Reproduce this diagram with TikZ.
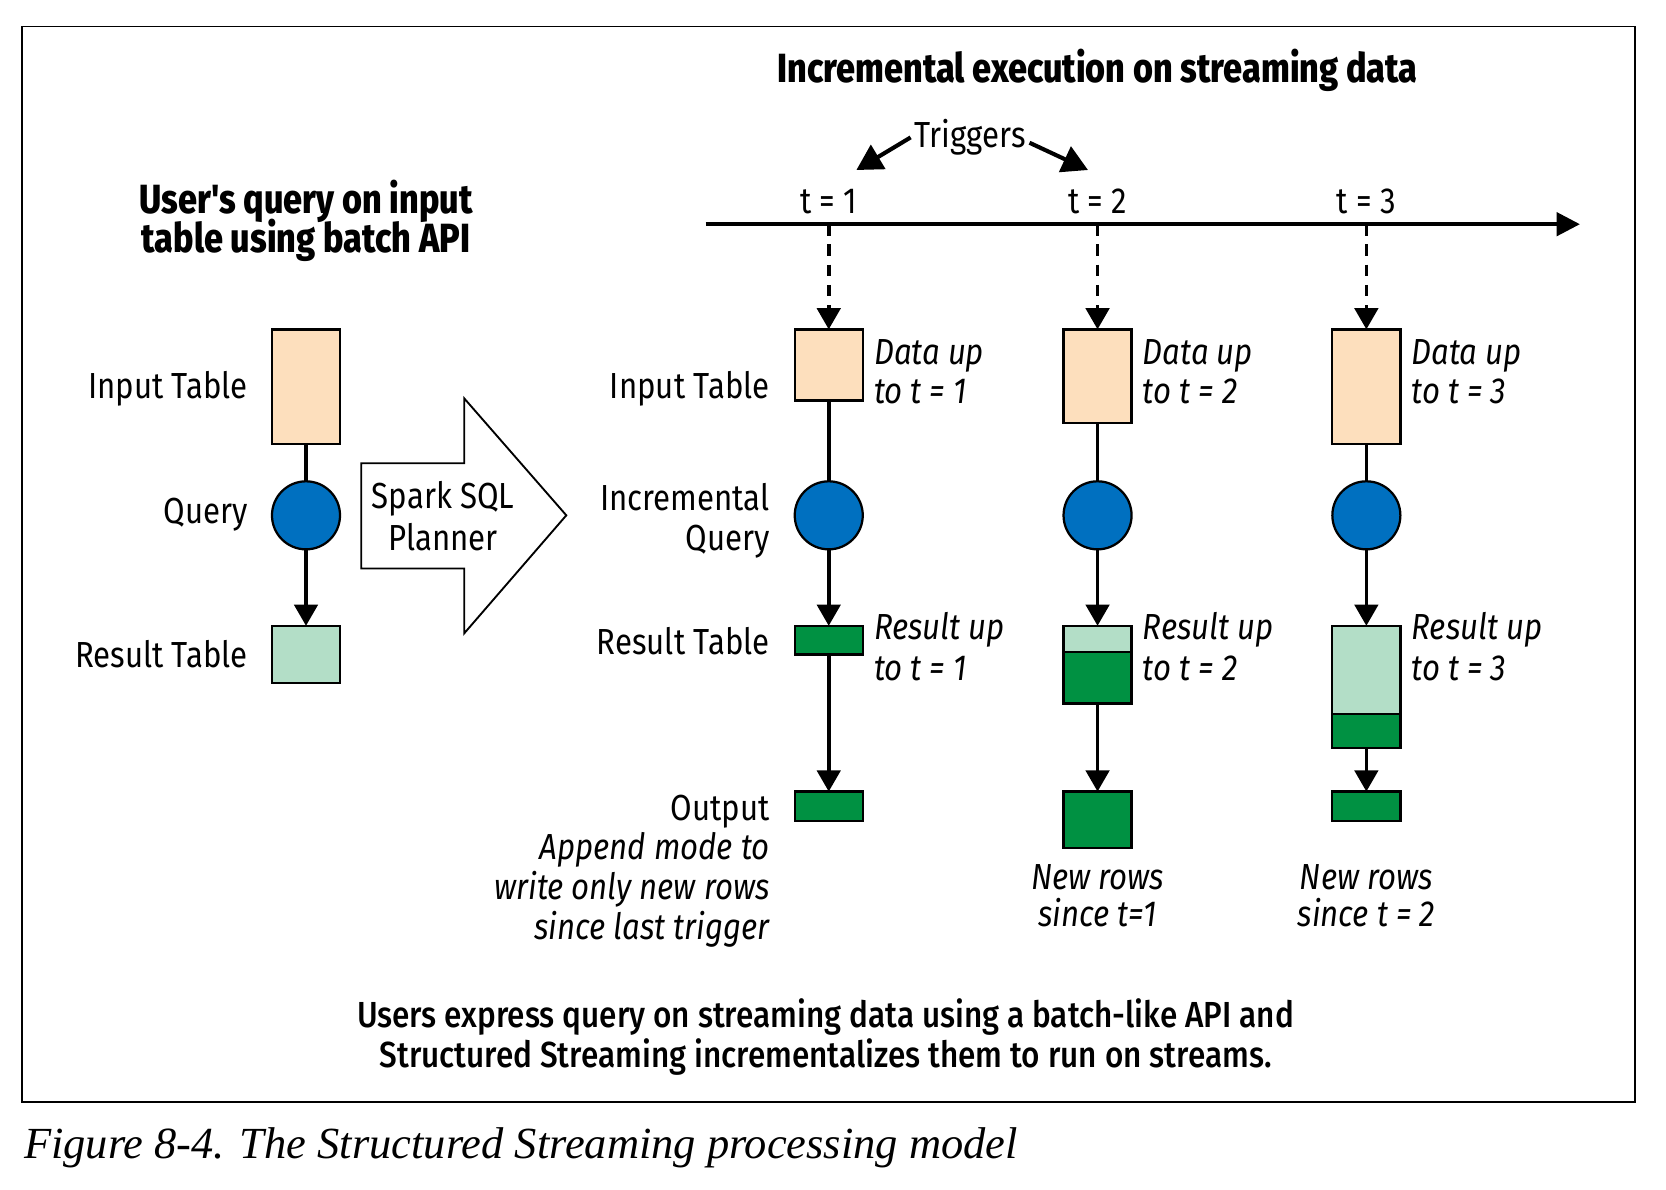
\documentclass[tikz,border=0pt]{standalone}
\usepackage{fontspec}
\usetikzlibrary{arrows.meta}
\setmainfont{Fira Sans}[FakeStretch=0.86]
\IfFontExistsTF{Fira Sans ExtraBold}{\newfontfamily\heavyfont{Fira Sans ExtraBold}[FakeStretch=0.84]}{\newcommand\heavyfont{\bfseries}}
\IfFontExistsTF{Fira Sans Medium}{\newfontfamily\medfont{Fira Sans Medium}[FakeStretch=0.87]}{\newcommand\medfont{\bfseries}}
\newfontfamily\capfont{Liberation Serif}
\definecolor{peach}{RGB}{253,223,189}
\definecolor{lgreen}{RGB}{179,222,199}
\definecolor{dgreen}{RGB}{0,145,66}
\definecolor{qblue}{RGB}{0,112,192}
\begin{document}
\begin{tikzpicture}[x=0.01cm,y=-0.01cm,
  font=\fontsize{9.7}{11.6}\selectfont,
  tbl/.style={draw=black, line width=0.6pt, inner sep=0pt, outer sep=0pt, minimum width=0.64cm, anchor=north},
  qry/.style={circle, draw=black, line width=0.6pt, fill=qblue, minimum size=0.64cm, inner sep=0pt, outer sep=0pt},
  link/.style={line width=1pt},
  flow/.style={line width=1pt, -{Triangle[length=0.2cm,width=0.22cm]}},
  tick/.style={line width=1pt, dash pattern=on 0.11cm off 0.08cm, -{Triangle[length=0.2cm,width=0.22cm]}},
  lbl/.style={inner sep=0pt},
  ital/.style={inner sep=0pt, font=\fontsize{9.7}{11.6}\selectfont\itshape},
  head/.style={inner sep=0pt, font=\fontsize{10.9}{13}\selectfont\heavyfont},
  bottom/.style={inner sep=0pt, font=\fontsize{9.7}{11.6}\selectfont\medfont}
]
\useasboundingbox (0,0) rectangle (1568,1120);
\draw[line width=0.45pt] (21,25) rectangle (1539,1037);

% titles
\node[head, anchor=base] (title) at (1033,78) {Incremental execution on streaming data};
\node[head, anchor=base] (lh1) at (288,201) {User's query on input};
\node[head, anchor=base] (lh2) at (288,238) {table using batch API};

% triggers
\node[lbl, anchor=base] (trig) at (913,139) {Triggers};
\coordinate (ta1) at (806,160);
\coordinate (ta2) at (1024,160);
\draw[line width=1.1pt, -{Triangle[length=0.24cm,width=0.26cm]}] ([xshift=-0.03cm]trig.west) -- (ta1);
\draw[line width=1.1pt, -{Triangle[length=0.24cm,width=0.26cm]}] ([xshift=0.03cm,yshift=-0.05cm]trig.east) -- (ta2);

% timeline
\node[lbl, anchor=base] (t1) at (780,201) {t = 1};
\node[lbl, anchor=base] (t2) at (1033,201) {t = 2};
\node[lbl, anchor=base] (t3) at (1286,201) {t = 3};
\coordinate (tl0) at (664,211);
\coordinate (tl1) at (1487,211);
\draw[line width=1pt, -{Triangle[length=0.22cm,width=0.22cm]}] (tl0) -- (tl1);
\coordinate (k1) at (780,211);
\coordinate (k2) at (1033,211);
\coordinate (k3) at (1286,211);

% batch column
\node[tbl, fill=peach, minimum height=1.08cm] (bi) at (288,310) {};
\node[qry] (bq) at (288,485) {};
\node[tbl, fill=lgreen, minimum height=0.54cm] (br) at (288,589) {};
\draw[link] (bi) -- (bq);
\draw[flow] (bq) -- (br);
\node[lbl, anchor=base east] (bl1) at (234,375) {Input Table};
\node[lbl, anchor=base east] (bl2) at (234,493) {Query};
\node[lbl, anchor=base east] (bl3) at (234,628) {Result Table};

% planner arrow
\draw[line width=0.5pt, fill=white] (340,436) -- (437,436) -- (437,375) -- (533,485) -- (437,596) -- (437,535) -- (340,535) -- cycle;
\node[lbl, anchor=base] (sp1) at (417,479) {Spark SQL};
\node[lbl, anchor=base] (sp2) at (417,518) {Planner};

% middle labels
\node[lbl, anchor=base east] (ml1) at (725,375) {Input Table};
\node[lbl, anchor=base east] (ml2) at (725,480) {Incremental};
\node[lbl, anchor=base east] (ml3) at (725,518) {Query};
\node[lbl, anchor=base east] (ml4) at (725,616) {Result Table};
\node[lbl, anchor=base east] (ml5) at (725,772) {Output};
\node[ital, anchor=base east] (ml6) at (725,809) {Append mode to};
\node[ital, anchor=base east] (ml7) at (725,847) {write only new rows};
\node[ital, anchor=base east] (ml8) at (725,884) {since last trigger};

% column t=1
\node[tbl, fill=peach, minimum height=0.67cm] (i1) at (780,310) {};
\node[qry] (q1) at (780,485) {};
\node[tbl, fill=dgreen, minimum height=0.27cm] (r1) at (780,589) {};
\node[tbl, fill=dgreen, minimum height=0.28cm] (o1) at (780,745) {};
\draw[tick] (k1) -- (i1);
\draw[link] (i1) -- (q1);
\draw[flow] (q1) -- (r1);
\draw[flow] (r1) -- (o1);

% column t=2
\node[tbl, fill=peach, minimum height=0.88cm] (i2) at (1033,310) {};
\node[qry] (q2) at (1033,485) {};
\node[tbl, fill=lgreen, minimum height=0.245cm] (r2a) at (1033,589) {};
\node[tbl, fill=dgreen, minimum height=0.485cm] (r2b) at (1033,613.5) {};
\node[tbl, fill=dgreen, minimum height=0.53cm] (o2) at (1033,745) {};
\draw[tick] (k2) -- (i2);
\draw[link] (i2) -- (q2);
\draw[flow] (q2) -- (r2a);
\draw[flow] (r2b) -- (o2);

% column t=3
\node[tbl, fill=peach, minimum height=1.08cm] (i3) at (1286,310) {};
\node[qry] (q3) at (1286,485) {};
\node[tbl, fill=lgreen, minimum height=0.83cm] (r3a) at (1286,589) {};
\node[tbl, fill=dgreen, minimum height=0.32cm] (r3b) at (1286,672) {};
\node[tbl, fill=dgreen, minimum height=0.28cm] (o3) at (1286,745) {};
\draw[tick] (k3) -- (i3);
\draw[link] (i3) -- (q3);
\draw[flow] (q3) -- (r3a);
\draw[flow] (r3b) -- (o3);

% side labels
\node[ital, anchor=base west] (d1a) at (822,343) {Data up};
\node[ital, anchor=base west] (d1b) at (822,380) {to t = 1};
\node[ital, anchor=base west] (d2a) at (1075,343) {Data up};
\node[ital, anchor=base west] (d2b) at (1075,380) {to t = 2};
\node[ital, anchor=base west] (d3a) at (1328,343) {Data up};
\node[ital, anchor=base west] (d3b) at (1328,380) {to t = 3};
\node[ital, anchor=base west] (e1a) at (822,602) {Result up};
\node[ital, anchor=base west] (e1b) at (822,640) {to t = 1};
\node[ital, anchor=base west] (e2a) at (1075,602) {Result up};
\node[ital, anchor=base west] (e2b) at (1075,640) {to t = 2};
\node[ital, anchor=base west] (e3a) at (1328,602) {Result up};
\node[ital, anchor=base west] (e3b) at (1328,640) {to t = 3};
\node[ital, anchor=base] (n2a) at (1033,837) {New rows};
\node[ital, anchor=base] (n2b) at (1033,872) {since t=1};
\node[ital, anchor=base] (n3a) at (1286,837) {New rows};
\node[ital, anchor=base] (n3b) at (1286,872) {since t = 2};

% bottom text
\node[bottom, anchor=base] (bt1) at (777,967) {Users express query on streaming data using a batch-like API and};
\node[bottom, anchor=base] (bt2) at (777,1005) {Structured Streaming incrementalizes them to run on streams.};

% caption
\node[inner sep=0pt, anchor=base west, font=\fontsize{11.9}{14}\selectfont\capfont\itshape] (cap) at (22,1090) {Figure 8-4. The Structured Streaming processing model};
\end{tikzpicture}
\end{document}
